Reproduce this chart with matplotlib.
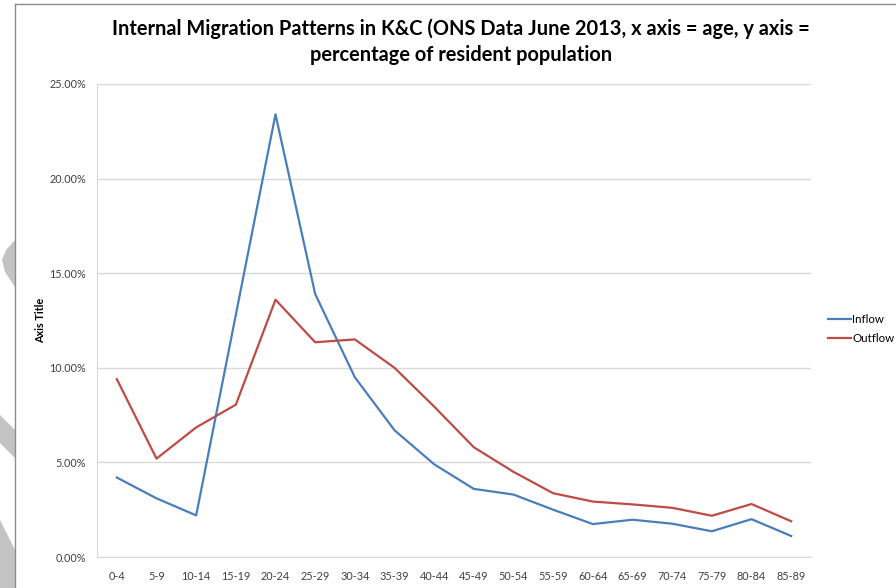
import matplotlib.pyplot as plt
from matplotlib.patches import Polygon
from matplotlib.lines import Line2D
from matplotlib.ticker import FuncFormatter

plt.rcParams['font.family'] = ['Lato', 'DejaVu Sans']

age_groups = ['0-4', '5-9', '10-14', '15-19', '20-24', '25-29', '30-34', '35-39', '40-44',
              '45-49', '50-54', '55-59', '60-64', '65-69', '70-74', '75-79', '80-84', '85-89']
inflow = [4.2, 3.1, 2.2, 12.8, 23.4, 13.9, 9.5, 6.7, 4.9,
          3.6, 3.3, 2.5, 1.74, 1.97, 1.76, 1.36, 2.0, 1.11]
outflow = [9.4, 5.2, 6.85, 8.05, 13.6, 11.35, 11.5, 10.0, 7.95,
           5.8, 4.5, 3.37, 2.93, 2.78, 2.6, 2.18, 2.8, 1.89]

fig = plt.figure(figsize=(8.96, 5.88), dpi=100)
W, H = 896, 588

# screenshot frame and the grey shapes along the left edge
fig.add_artist(Line2D([15 / W, 15 / W], [0, 1 - 4 / H], color='#8c8c8c', lw=1))
fig.add_artist(Line2D([15 / W, 1], [1 - 4 / H, 1 - 4 / H], color='#8c8c8c', lw=1))
grey_shapes = [
    [(15, 240), (6, 250), (2, 260), (5, 272), (15, 287)],
    [(0, 415), (15, 430), (15, 458), (0, 443)],
    [(0, 520), (15, 550), (15, 588), (0, 588)],
]
for pts in grey_shapes:
    fig.add_artist(Polygon([(x / W, 1 - y / H) for x, y in pts], closed=True,
                           facecolor='#c3c3c3', edgecolor='none'))

ax = fig.add_axes([97 / W, 1 - 557 / H, (811 - 97) / W, (557 - 84) / H])
x = range(len(age_groups))
ax.plot(x, inflow, color='#4a7ebb', lw=1.6, label='Inflow')
ax.plot(x, outflow, color='#be4b48', lw=1.6, label='Outflow')

ax.set_xlim(-0.5, len(age_groups) - 0.5)
ax.set_ylim(0, 25)
ax.set_yticks([0, 5, 10, 15, 20, 25])
ax.yaxis.set_major_formatter(FuncFormatter(lambda v, p: '%.2f%%' % v))
ax.set_xticks(list(x))
ax.set_xticklabels(age_groups)
ax.tick_params(axis='both', length=0, labelsize=7.8, labelcolor='#404040')
ax.tick_params(axis='y', pad=8)
ax.tick_params(axis='x', pad=10)
ax.grid(axis='y', color='#d9d9d9', lw=1)
ax.set_axisbelow(True)
for side in ['top', 'right']:
    ax.spines[side].set_visible(False)
for side in ['left', 'bottom']:
    ax.spines[side].set_color('#d9d9d9')

ax.set_ylabel('Axis Title', fontsize=7.8, fontweight='bold', labelpad=2)

fig.text(461 / W, 1 - 42 / H,
         'Internal Migration Patterns in K&C (ONS Data June 2013, x axis = age, y axis =\n'
         'percentage of resident population',
         ha='center', va='center', fontsize=14.4, fontweight='bold', linespacing=1.35)

ax.legend(loc='center left', bbox_to_anchor=(828 / W, 1 - 329 / H),
          bbox_transform=fig.transFigure, frameon=False, fontsize=8.3,
          handlelength=2.0, handletextpad=0.1, labelspacing=0.75, borderpad=0,
          borderaxespad=0)

fig.savefig('out.png', dpi=100)
